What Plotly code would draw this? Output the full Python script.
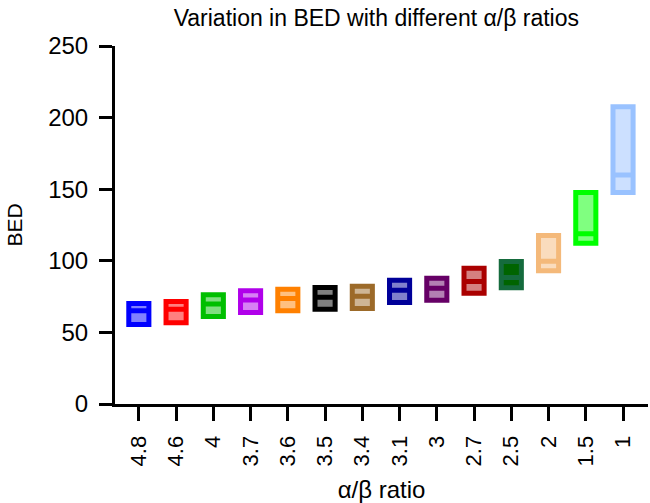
import plotly.graph_objects as go

ratios = ["4.8", "4.6", "4", "3.7", "3.6", "3.5", "3.4", "3.1", "3", "2.7", "2.5", "2", "1.5", "1"]
bed_max = [70.2, 71.6, 76.3, 79.1, 80.2, 81.4, 82.3, 86.5, 87.8, 94.8, 99.5, 117.7, 147.7, 207.5]
bed_median = [65.1, 66.1, 69.8, 72.6, 73.7, 74.5, 75.3, 79.5, 80.9, 85.5, 88.3, 99.6, 118.9, 160.0]
bed_min = [55.5, 56.7, 61.1, 63.9, 65.1, 66.2, 66.7, 70.9, 72.5, 77.4, 81.1, 93.0, 112.3, 147.7]

line_colors = ["#0000ff", "#ff0000", "#00bf00", "#b000ea", "#ff8000", "#000000", "#9c6a29",
               "#000099", "#660066", "#aa0000", "#156b3d", "#f4b97a", "#00ff00", "#99c2ff"]
fill_colors = ["#8080ff", "#ff8080", "#80df80", "#d780f4", "#ffc080", "#808080", "#ceb594",
               "#8080cc", "#b380b3", "#d58080", "#006400", "#fadcbd", "#80ff80", "#cce0ff"]

FONT = "Liberation Sans, Arial, Helvetica, sans-serif"

fig = go.Figure()
for i, r in enumerate(ratios):
    fig.add_trace(go.Box(
        x=[r], q1=[bed_min[i]], median=[bed_median[i]], q3=[bed_max[i]],
        lowerfence=[bed_min[i]], upperfence=[bed_max[i]],
        boxpoints=False, whiskerwidth=0, width=0.54,
        line=dict(color=line_colors[i], width=5),
        fillcolor=fill_colors[i], showlegend=False, name=r,
    ))

fig.update_layout(
    width=650, height=503,
    margin=dict(l=115, r=2, t=46, b=99),
    paper_bgcolor="white", plot_bgcolor="white",
    boxmode="overlay",
    font=dict(family=FONT, color="black"),
    title=dict(text="Variation in BED with different α/β ratios", x=0.579, xref="container",
               xanchor="center", y=0.964, yref="container", yanchor="middle",
               font=dict(size=23, family=FONT, color="black")),
    xaxis=dict(type="category", range=[-0.64, 13.67], showline=True, linewidth=3, linecolor="black",
               ticks="outside", ticklen=14, tickwidth=3, tickcolor="black", tickangle=-90,
               tickfont=dict(size=22), ticklabelstandoff=6, showgrid=False, zeroline=False,
               automargin=False,
               title=dict(text="α/β ratio", font=dict(size=24), standoff=18)),
    yaxis=dict(range=[0, 250], tickvals=[0, 50, 100, 150, 200, 250], showline=True, linewidth=3,
               linecolor="black", ticks="outside", ticklen=13, tickwidth=3, tickcolor="black",
               tickfont=dict(size=24), ticklabelstandoff=6, showgrid=False, zeroline=False,
               automargin=False,
               title=dict(text="BED", font=dict(size=21), standoff=20)),
)

fig.write_html("out.html", config={"displayModeBar": False},
               post_script="document.body.style.margin='0';")
